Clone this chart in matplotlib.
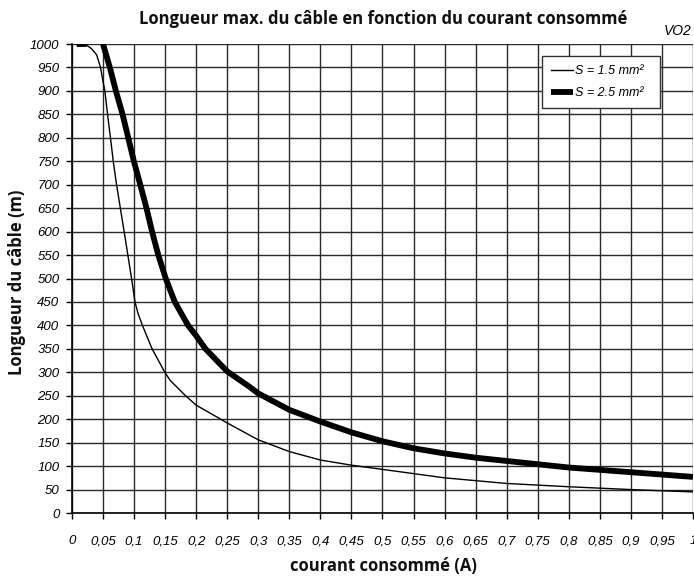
import numpy as np
import matplotlib
matplotlib.use("Agg")
import matplotlib.pyplot as plt
from matplotlib import font_manager

# courant (A) / longueur max (m), section 1.5 mm2
x_15 = [0.0075, 0.021, 0.0316, 0.0397, 0.046, 0.05, 0.053, 0.0573, 0.062, 0.0665,
        0.0718, 0.084, 0.096, 0.1015, 0.1065, 0.1135, 0.129, 0.1495, 0.158, 0.183,
        0.2, 0.25, 0.3, 0.35, 0.4, 0.45, 0.5, 0.6, 0.7, 0.8, 0.9, 1.0]
y_15 = [1000, 1000, 990, 977, 950, 920, 900, 850, 800, 750,
        700, 600, 500, 450, 425, 400, 350, 300, 283, 250,
        230, 192, 156, 131, 113, 102, 93, 75, 63, 56, 50, 45]

# section 2.5 mm2
x_25 = [0.0075, 0.0235, np.nan, 0.05, 0.061, 0.0707, 0.0815, 0.0906, 0.0997, 0.11,
        0.12, 0.129, 0.139, 0.151, 0.1656, 0.187, 0.2, 0.215, 0.25, 0.286, 0.3,
        0.35, 0.4, 0.45, 0.5, 0.55, 0.6, 0.65, 0.7, 0.75, 0.8, 0.85, 0.9, 0.95, 1.0]
y_25 = [1000, 1000, np.nan, 1000, 950, 900, 850, 800, 750, 700,
        650, 600, 550, 500, 450, 400, 378, 350, 302, 269, 255,
        220, 195, 172, 153, 138, 127, 118, 111, 104, 97, 92, 87, 82, 77]

x_ticks = np.round(np.arange(0, 1.0001, 0.05), 2)
y_ticks = np.arange(0, 1001, 50)

names = {f.name for f in font_manager.fontManager.ttflist}
if "Liberation Sans Narrow" in names:
    tick_font, tick_size = ["Liberation Sans Narrow", "DejaVu Sans"], 11
else:
    tick_font, tick_size = ["Liberation Sans", "DejaVu Sans"], 9.5

fig = plt.figure(figsize=(6.94, 5.77), dpi=100)
ax = fig.add_axes([0.1037, 0.1109, 0.8948, 0.8128])

ax.plot(x_15, y_15, color="black", lw=1.0, label="S = 1.5 mm²", zorder=3)
ax.plot(x_25, y_25, color="black", lw=4.2, label="S = 2.5 mm²", zorder=3,
        solid_capstyle="butt")

ax.set_xlim(0, 1.0)
ax.set_ylim(0, 1000)
ax.set_xticks(x_ticks)
ax.set_yticks(y_ticks)
ax.set_xticklabels([("%g" % v).replace(".", ",") for v in x_ticks])
ax.set_yticklabels(["%d" % v for v in y_ticks])
for lab in ax.get_xticklabels() + ax.get_yticklabels():
    lab.set_family(tick_font)
    lab.set_style("italic")
    lab.set_fontsize(tick_size)

ax.grid(True, color="#2a2a2a", lw=1.0)
ax.set_axisbelow(True)
ax.tick_params(axis="y", direction="out", length=4, width=1, pad=5)
ax.tick_params(axis="x", direction="out", length=4, width=1, pad=12)
for side in ("top", "right"):
    ax.spines[side].set_visible(False)
ax.spines["left"].set_linewidth(1.2)
ax.spines["bottom"].set_linewidth(1.2)

fig.text(0.552, 0.967, "Longueur max. du câble en fonction du courant consommé",
         ha="center", va="center", fontsize=12, fontweight="bold",
         family="Open Sans", color="#111111")
fig.text(0.997, 0.947, "VO2", ha="right", va="center", fontsize=10,
         style="italic", family=tick_font)
fig.text(0.552, 0.019, "courant consommé (A)", ha="center", va="center",
         fontsize=12, fontweight="bold", family="Open Sans", color="#111111")
fig.text(0.025, 0.51, "Longueur du câble (m)", ha="center", va="center",
         rotation=90, fontsize=12, fontweight="bold", family="Open Sans",
         color="#111111")

leg = ax.legend(loc="lower left", bbox_to_anchor=(0.757, 0.864, 0.19, 0.113),
                mode="expand",
                prop={"family": tick_font, "style": "italic", "size": 9},
                frameon=True, fancybox=False, handlelength=1.8,
                handletextpad=0.1, borderpad=0.7, labelspacing=0.8,
                borderaxespad=0)
leg.get_frame().set_edgecolor("#333333")
leg.get_frame().set_linewidth(1.0)
leg.get_frame().set_alpha(1)

fig.savefig("out.png", dpi=100)
